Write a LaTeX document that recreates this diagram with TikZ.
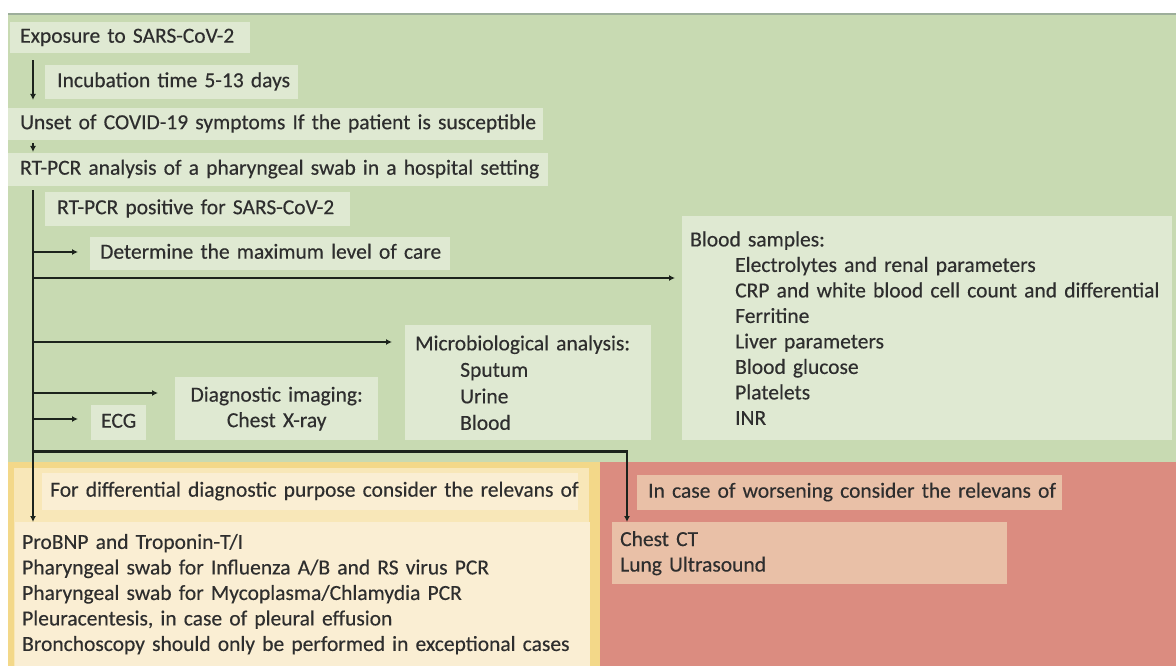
\documentclass[tikz,border=0pt]{standalone}
\usepackage{fontspec}
\setmainfont[FakeBold=0.35]{Carlito}
\usetikzlibrary{arrows.meta,calc}
\definecolor{gpanel}{HTML}{C8DAB2}
\definecolor{gedge}{HTML}{9DAE9B}
\definecolor{gbox}{HTML}{DFE9D2}
\definecolor{ypanel}{HTML}{F8E7B8}
\definecolor{yedge}{HTML}{F3D889}
\definecolor{ybox}{HTML}{FAEED3}
\definecolor{rpanel}{HTML}{DB8C80}
\definecolor{rbox}{HTML}{E9C0A7}
\definecolor{txt}{HTML}{2E2E2E}
\definecolor{ink}{HTML}{1C231C}
\newcommand{\mainfnt}{\fontsize{21.5}{25.5}\selectfont}
\newcommand{\microfnt}{\fontsize{21.5}{26.5}\selectfont}
\begin{document}
\begin{tikzpicture}[x=1pt,y=-1pt,
  box/.style={anchor=north west, inner ysep=0pt, inner xsep=10pt, align=left,
    font=\mainfnt, text=txt},
  one/.style={box, text height=15pt, text depth=5pt},
  arr/.style={draw=ink, line width=2.4pt, -{Latex[length=6pt,width=6pt]}},
]
\useasboundingbox (0,0) rectangle (1176,666);
\fill[white] (0,0) rectangle (1176,666);
% panels
\fill[gpanel] (8,14) rectangle (1176,462);
\draw[gedge, line width=2.5pt] (8,14) -- (1176,14);
\fill[yedge] (8,462) rectangle (600,666);
\fill[ypanel] (14,468) rectangle (589,666);
\fill[rpanel] (600,462) rectangle (1176,666);

% boxes
\node[one, fill=gbox, inner xsep=10pt, text width=220pt, minimum height=31pt] (exp) at (10,22) {\mbox{Exposure to SARS-CoV-2}};
\node[one, fill=gbox, inner xsep=12pt, text width=229pt, minimum height=34pt] (inc) at (45,65) {\mbox{Incubation time 5-13 days}};
\node[one, fill=gbox, inner xsep=12pt, text width=511pt, minimum height=32pt] (uns) at (8,108) {\mbox{Unset of COVID-19 symptoms If the patient is susceptible}};
\node[one, fill=gbox, inner xsep=12pt, text width=516pt, minimum height=33pt] (rta) at (8,153) {\mbox{RT-PCR analysis of a pharyngeal swab in a hospital setting}};
\node[one, fill=gbox, inner xsep=12pt, text width=281pt, minimum height=34pt] (pos) at (45,192) {\mbox{RT-PCR positive for SARS-CoV-2}};
\node[one, fill=gbox, inner xsep=10pt, text width=340pt, minimum height=33pt] (det) at (90,237) {\mbox{Determine the maximum level of care}};
\node[box, fill=gbox, inner xsep=8pt, text width=474pt, minimum height=224pt] (blood) at (682,216) {\mbox{Blood samples:}\\
\hspace*{45pt}\mbox{Electrolytes and renal parameters}\\
\hspace*{45pt}\mbox{CRP and white blood cell count and differential}\\
\hspace*{45pt}\mbox{Ferritine}\\
\hspace*{45pt}\mbox{Liver parameters}\\
\hspace*{45pt}\mbox{Blood glucose}\\
\hspace*{45pt}\mbox{Platelets}\\
\hspace*{45pt}\mbox{INR}};
\node[box, fill=gbox, inner xsep=10pt, text width=226pt, minimum height=115pt,
  font=\microfnt] (micro) at (405,325) {\mbox{Microbiological analysis:}\\
\hspace*{45pt}\mbox{Sputum}\\
\hspace*{45pt}\mbox{Urine}\\
\hspace*{45pt}\mbox{Blood}};
\node[box, fill=gbox, align=center, inner xsep=0pt, text width=203pt, minimum height=63pt] (diag) at (175,377) {\mbox{Diagnostic imaging:}\\\mbox{Chest X-ray}};
\node[one, fill=gbox, inner xsep=10pt, text width=35pt, minimum height=35pt] (ecg) at (91,405) {\mbox{ECG}};
\node[one, fill=ybox, inner xsep=8pt, text width=520pt, minimum height=37pt] (diff) at (42,473) {\mbox{For differential diagnostic purpose consider the relevans of}};
\node[box, fill=ybox, inner xsep=7pt, text width=561pt, minimum height=144pt] (pro) at (15,522) {\mbox{ProBNP and Troponin-T/I}\\
\mbox{Pharyngeal swab for Influenza A/B and RS virus PCR}\\
\mbox{Pharyngeal swab for Mycoplasma/Chlamydia PCR}\\
\mbox{Pleuracentesis, in case of pleural effusion}\\
\mbox{Bronchoscopy should only be performed in exceptional cases}};
\node[one, fill=rbox, inner xsep=11pt, text width=403pt, minimum height=35pt] (wor) at (637,475) {\mbox{In case of worsening consider the relevans of}};
\node[box, fill=rbox, inner xsep=8pt, text width=379pt, minimum height=62pt] (ct) at (612,522) {\mbox{Chest CT}\\\mbox{Lung Ultrasound}};

% connectors
\coordinate (bus) at (33,0);
\draw[arr] ($(exp.south west -| bus)+(0,7)$) -- ($(uns.north west -| bus)+(0,-8)$);
\draw[arr] ($(uns.south west -| bus)+(0,3)$) -- ($(rta.north west -| bus)+(0,-1)$);
\draw[arr] ($(rta.south west -| bus)+(0,4)$) -- (pro.north west -| bus);
\coordinate (de) at ($(det.north west)+(-12,15)$);
\coordinate (bl) at ($(blood.north west)+(-7,62)$);
\coordinate (mi) at ($(micro.north west)+(-13,17)$);
\coordinate (di) at ($(diag.north west)+(-17,16)$);
\coordinate (ec) at ($(ecg.north west)+(-13,14)$);
\draw[arr] (de -| bus) -- (de);
\draw[arr] (bl -| bus) -- (bl);
\draw[arr] (mi -| bus) -- (mi);
\draw[arr] (di -| bus) -- (di);
\draw[arr] (ec -| bus) -- (ec);
\coordinate (split) at ($(ecg.south -| bus)+(0,11)$);
\coordinate (ctin) at ($(ct.north west)+(15,0)$);
\draw[arr] (split) -| (ctin);
\end{tikzpicture}
\end{document}
